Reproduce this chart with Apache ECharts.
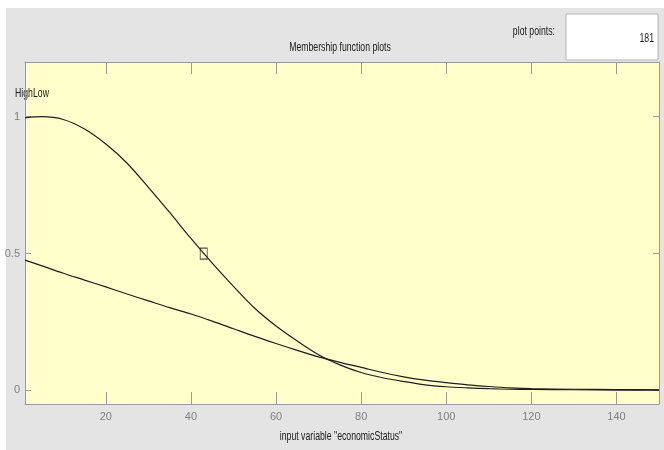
<!DOCTYPE html>
<html>
<head>
<meta charset="utf-8">
<script src="https://cdn.jsdelivr.net/npm/echarts@6/dist/echarts.min.js"></script>
<style>
  html, body { margin: 0; padding: 0; background: #ffffff; }
  #chart { width: 664px; height: 450px; }
</style>
</head>
<body>
<div id="chart"></div>
<script>
// Sample positions along the input range and membership degrees of each set
const xs = [1, 5, 10, 15, 20, 25, 30, 35, 40, 45, 50, 55, 60, 65, 70, 75, 80, 85, 90, 95, 100, 105, 110, 115, 120, 130, 140, 150];
const highValues = [0.996, 1.0, 0.99, 0.955, 0.90, 0.83, 0.742, 0.65, 0.555, 0.465, 0.38, 0.30, 0.235, 0.18, 0.13, 0.093, 0.065, 0.046, 0.032, 0.02, 0.013, 0.009, 0.006, 0.004, 0.003, 0.002, 0.001, 0.001];
const lowValues = [0.476, 0.455, 0.428, 0.403, 0.378, 0.352, 0.327, 0.302, 0.279, 0.253, 0.225, 0.197, 0.171, 0.146, 0.122, 0.102, 0.084, 0.065, 0.049, 0.037, 0.028, 0.02, 0.014, 0.009, 0.006, 0.004, 0.003, 0.002];
const setNames = ['High', 'Low'];
const selectedPoint = [43, 0.5];

const xRange = [1, 150];
const yRange = [-0.05, 1.2];
const xTickValues = [20, 40, 60, 80, 100, 120, 140];
const yTickValues = [0, 0.5, 1];
const yTickLabels = ['0', '0.5', '1'];
const plotPoints = '181';

const FONT = "'Liberation Sans', Arial, sans-serif";
const FRAME = '#9a9a9a';
const CURVE = '#1e1e1e';
const NARROW = 0.67;   // horizontal squeeze for the panel captions

const chart = echarts.init(document.getElementById('chart'), null, { renderer: 'canvas' });

function pairs(values) {
  return xs.map((x, i) => [x, values[i]]);
}

function caption(text, x, y, align) {
  return {
    type: 'text', x: x, y: y, scaleX: NARROW,
    style: { x: 0, y: 0, text: text, fill: '#1a1a1a', font: '13px ' + FONT, textAlign: align, textVerticalAlign: 'middle' }
  };
}

const xBase = {
  type: 'value', min: xRange[0], max: xRange[1],
  splitLine: { show: false },
  axisLine: { show: true, onZero: false, lineStyle: { color: FRAME, width: 1 } },
  axisTick: { show: true, inside: true, length: 12, customValues: xTickValues, lineStyle: { color: FRAME } }
};
const yBase = {
  type: 'value', min: yRange[0], max: yRange[1],
  splitLine: { show: false },
  axisLine: { show: true, onZero: false, lineStyle: { color: FRAME, width: 1 } },
  axisTick: { show: true, inside: true, length: 6, customValues: yTickValues, lineStyle: { color: FRAME } }
};

chart.setOption({
  animation: false,
  backgroundColor: '#ffffff',
  textStyle: { fontFamily: FONT },
  graphic: [
    { type: 'rect', z: -10, shape: { x: 6, y: 8, width: 658, height: 442 }, style: { fill: '#e4e4e4' } },
    { type: 'rect', z: -9, shape: { x: 25, y: 62, width: 634, height: 342 }, style: { fill: '#ffffcc' } },
    { type: 'rect', shape: { x: 566, y: 14, width: 92, height: 46 }, style: { fill: '#ffffff', stroke: '#b4b4b4', lineWidth: 1 } },
    caption('plot points:', 555, 31, 'right'),
    caption(plotPoints, 654, 38, 'right'),
    caption('Membership function plots', 340, 47, 'center'),
    caption('input variable "economicStatus"', 341, 436, 'center'),
    caption(setNames[0], 15, 93, 'left'),
    caption(setNames[1], 33, 93, 'left')
  ],
  grid: { left: 25, right: 5, top: 62, bottom: 46, containLabel: false },
  xAxis: [
    Object.assign({}, xBase, {
      position: 'bottom',
      axisLabel: { show: true, customValues: xTickValues, margin: 7, color: '#808080', fontFamily: FONT, fontSize: 11 }
    }),
    Object.assign({}, xBase, { position: 'top', axisLabel: { show: false } })
  ],
  yAxis: [
    Object.assign({}, yBase, {
      position: 'left',
      axisLabel: {
        show: true, customValues: yTickValues, margin: 5, color: '#808080', fontFamily: FONT, fontSize: 11,
        formatter: v => yTickLabels[yTickValues.indexOf(v)] ?? ''
      }
    }),
    Object.assign({}, yBase, { position: 'right', axisLabel: { show: false } })
  ],
  series: [
    {
      name: setNames[0], type: 'line', xAxisIndex: 0, yAxisIndex: 0,
      data: pairs(highValues), showSymbol: false, smooth: 0.3,
      lineStyle: { color: CURVE, width: 1.2 }, z: 3
    },
    {
      name: setNames[1], type: 'line', xAxisIndex: 0, yAxisIndex: 0,
      data: pairs(lowValues), showSymbol: false, smooth: 0.3,
      lineStyle: { color: CURVE, width: 1.2 }, z: 3
    },
    {
      type: 'scatter', xAxisIndex: 0, yAxisIndex: 0,
      data: [selectedPoint], symbol: 'rect', symbolSize: [7, 11],
      itemStyle: { color: 'rgba(0,0,0,0)', borderColor: CURVE, borderWidth: 1 }, z: 4
    }
  ]
});
</script>
</body>
</html>
